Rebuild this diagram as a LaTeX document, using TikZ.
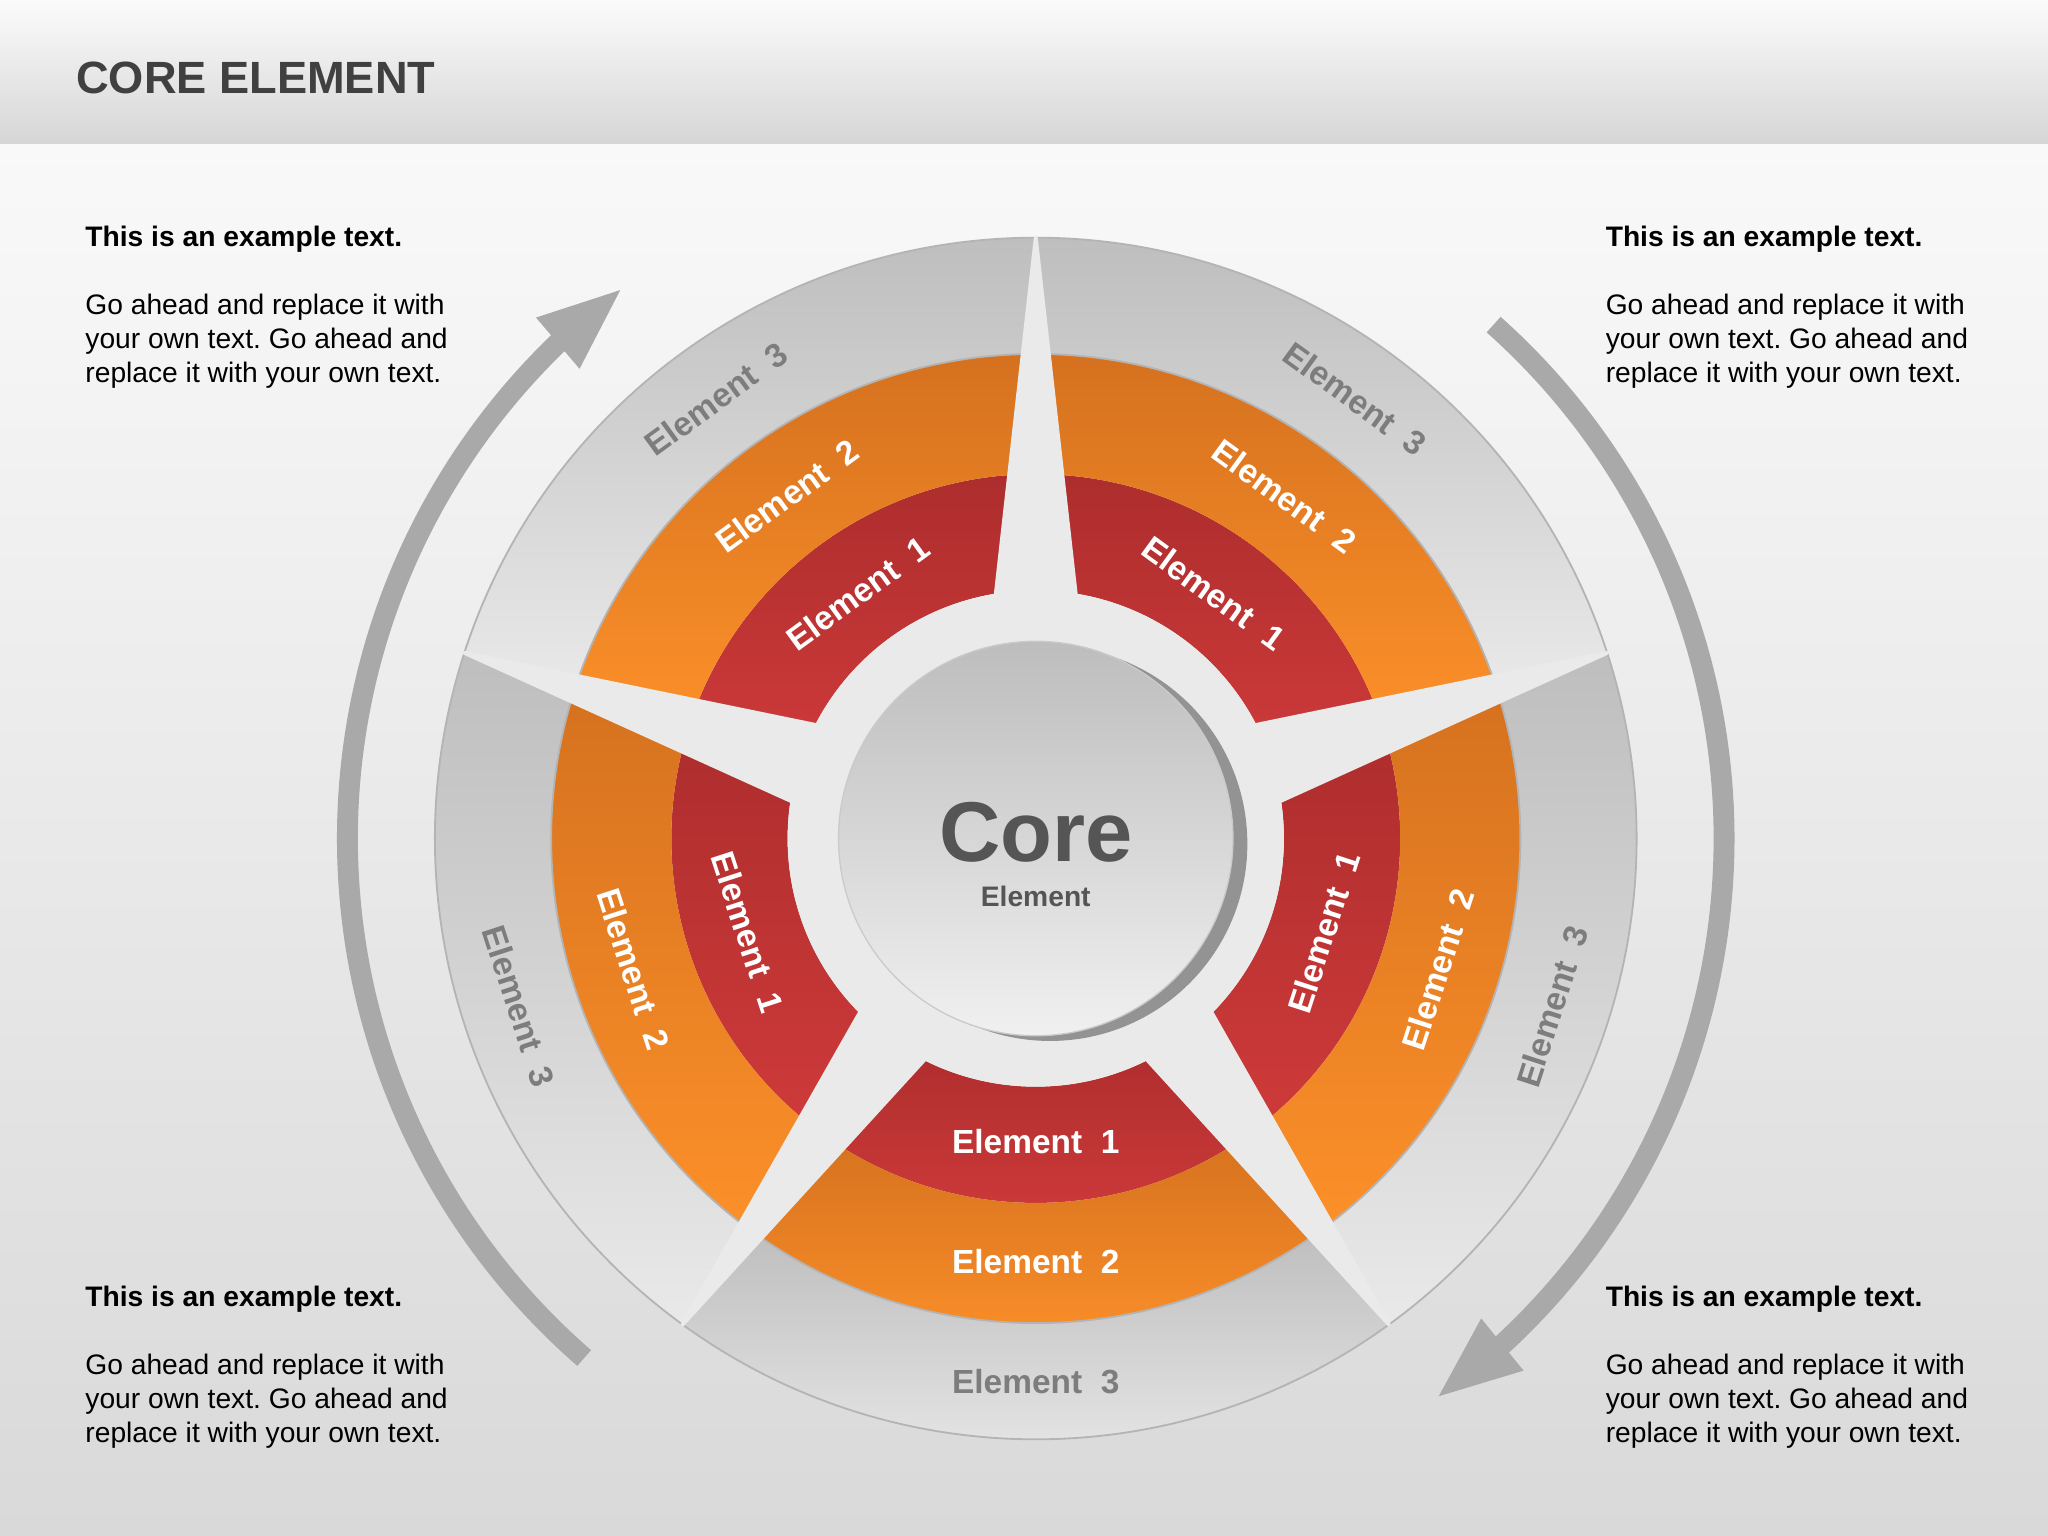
\documentclass[tikz,border=0pt]{standalone}
\usepackage{fontspec}
\setmainfont{Liberation Sans}
\frenchspacing
\usetikzlibrary{arrows.meta, bending, positioning}

\definecolor{bgtop}{HTML}{F9F9F9}
\definecolor{bgbottom}{HTML}{D9D9D9}
\definecolor{bandtop}{HTML}{FBFBFB}
\definecolor{bandbottom}{HTML}{D6D6D6}
\definecolor{titlegray}{HTML}{404040}
\definecolor{coregray}{HTML}{555555}
\definecolor{arrowgray}{HTML}{A9A9A9}
\definecolor{stargray}{HTML}{EAEAEA}
\definecolor{reddark}{HTML}{AD2D2D}
\definecolor{redlight}{HTML}{CF3A3A}
\definecolor{orangedark}{HTML}{D5711F}
\definecolor{orangelight}{HTML}{FC9029}
\definecolor{ringdark}{HTML}{BEBEBE}
\definecolor{ringlight}{HTML}{E9E9E9}
\definecolor{ringline}{HTML}{B4B4B4}
\definecolor{labelgray}{HTML}{7D7D7D}
\definecolor{facetop}{HTML}{BDBDBD}
\definecolor{facebottom}{HTML}{F0F0F0}
\definecolor{faceshadow}{HTML}{939393}

\tikzset{
  redsec/.style={top color=reddark, bottom color=redlight},
  orangesec/.style={top color=orangedark, bottom color=orangelight},
  graysec/.style={top color=ringdark, bottom color=ringlight, draw=ringline, line width=0.7pt},
  seglabel/.style={font=\fontsize{12.8}{14}\selectfont\bfseries, text=white, inner sep=0pt},
  graylabel/.style={seglabel, text=labelgray},
  titletext/.style={font=\fontsize{17.3}{20}\selectfont\bfseries, text=titlegray, inner sep=0pt},
  blocktext/.style={font=\fontsize{10.8}{13}\selectfont, align=left, inner sep=0pt, text=black},
  cyclearrow/.style={draw=arrowgray, line width=8pt, -{Triangle[length=33pt, width=23pt, flex]}},
}

\begin{document}
\begin{tikzpicture}[x=0.5pt, y=0.5pt]
\useasboundingbox (0,0) rectangle (1568,1176);

% background and title band
\fill[top color=bgtop, bottom color=bgbottom] (0,0) rectangle (1568,1066);
\fill[top color=bandtop, bottom color=bandbottom] (0,1066) rectangle (1568,1176);
\node[titletext, anchor=west] (title) at (58,1116) {CORE ELEMENT};

% example texts
\node[blocktext, anchor=north west] (tltext) at (65,1003) {\textbf{This is an example text.}\\[13pt]Go ahead and replace it with\\your own text. Go ahead and\\replace it with your own text.};
\node[blocktext, anchor=north west] (trtext) at (1229,1003) {\textbf{This is an example text.}\\[13pt]Go ahead and replace it with\\your own text. Go ahead and\\replace it with your own text.};
\node[blocktext, anchor=north west] (bltext) at (65,192) {\textbf{This is an example text.}\\[13pt]Go ahead and replace it with\\your own text. Go ahead and\\replace it with your own text.};
\node[blocktext, anchor=north west] (brtext) at (1229,192) {\textbf{This is an example text.}\\[13pt]Go ahead and replace it with\\your own text. Go ahead and\\replace it with your own text.};

\begin{scope}[shift={(793,534)}]
% three rings, five sectors each
\foreach \a in {126,54,-18,-90,198} {
  \path[redsec] (\a-36:190) arc[start angle=\a-36, end angle=\a+36, radius=190]
    -- (\a+36:279) arc[start angle=\a+36, end angle=\a-36, radius=279] -- cycle;
  \path[orangesec] (\a-36:279) arc[start angle=\a-36, end angle=\a+36, radius=279]
    -- (\a+36:371) arc[start angle=\a+36, end angle=\a-36, radius=371] -- cycle;
  \path[graysec] (\a-36:371) arc[start angle=\a-36, end angle=\a+36, radius=371]
    -- (\a+36:460) arc[start angle=\a+36, end angle=\a-36, radius=460] -- cycle;
}

% star between the sectors
\filldraw[fill=stargray, draw=stargray, line width=1.5pt, line join=round]
  (90:460) -- (126:76) -- (162:460) -- (198:76) -- (234:460) -- (270:76)
  -- (306:460) -- (342:76) -- (18:460) -- (54:76) -- cycle;
\fill[stargray] (0,0) circle[radius=190];

% core
\fill[faceshadow] (11,-4) circle[radius=151];
\path[top color=facetop, bottom color=facebottom, draw=facetop!80!white, line width=0.5pt] (0,0) circle[radius=151];
\node[font=\fontsize{32.5}{36}\selectfont\bfseries, text=coregray] (core) at (0,5) {Core};
\node[font=\fontsize{10.8}{13}\selectfont\bfseries, text=coregray] (coresub) at (0,-44) {Element};

% labels on the sectors
\foreach \a/\rot/\n in {126/36/a, 54/-36/b, -18/72/c, -90/0/d, 198/-72/e} {
  \node[seglabel, rotate=\rot] (one\n) at (\a:232) {Element~~1};
  \node[seglabel, rotate=\rot] (two\n) at (\a:324) {Element~~2};
  \node[graylabel, rotate=\rot] (three\n) at (\a:416) {Element~~3};
}

% cycle arrows
\draw[cyclearrow] (229:527) arc[start angle=229, end angle=126.8, radius=527];
\draw[cyclearrow] (48.3:527) arc[start angle=48.3, end angle=-54.5, radius=527];
\end{scope}

\end{tikzpicture}
\end{document}
